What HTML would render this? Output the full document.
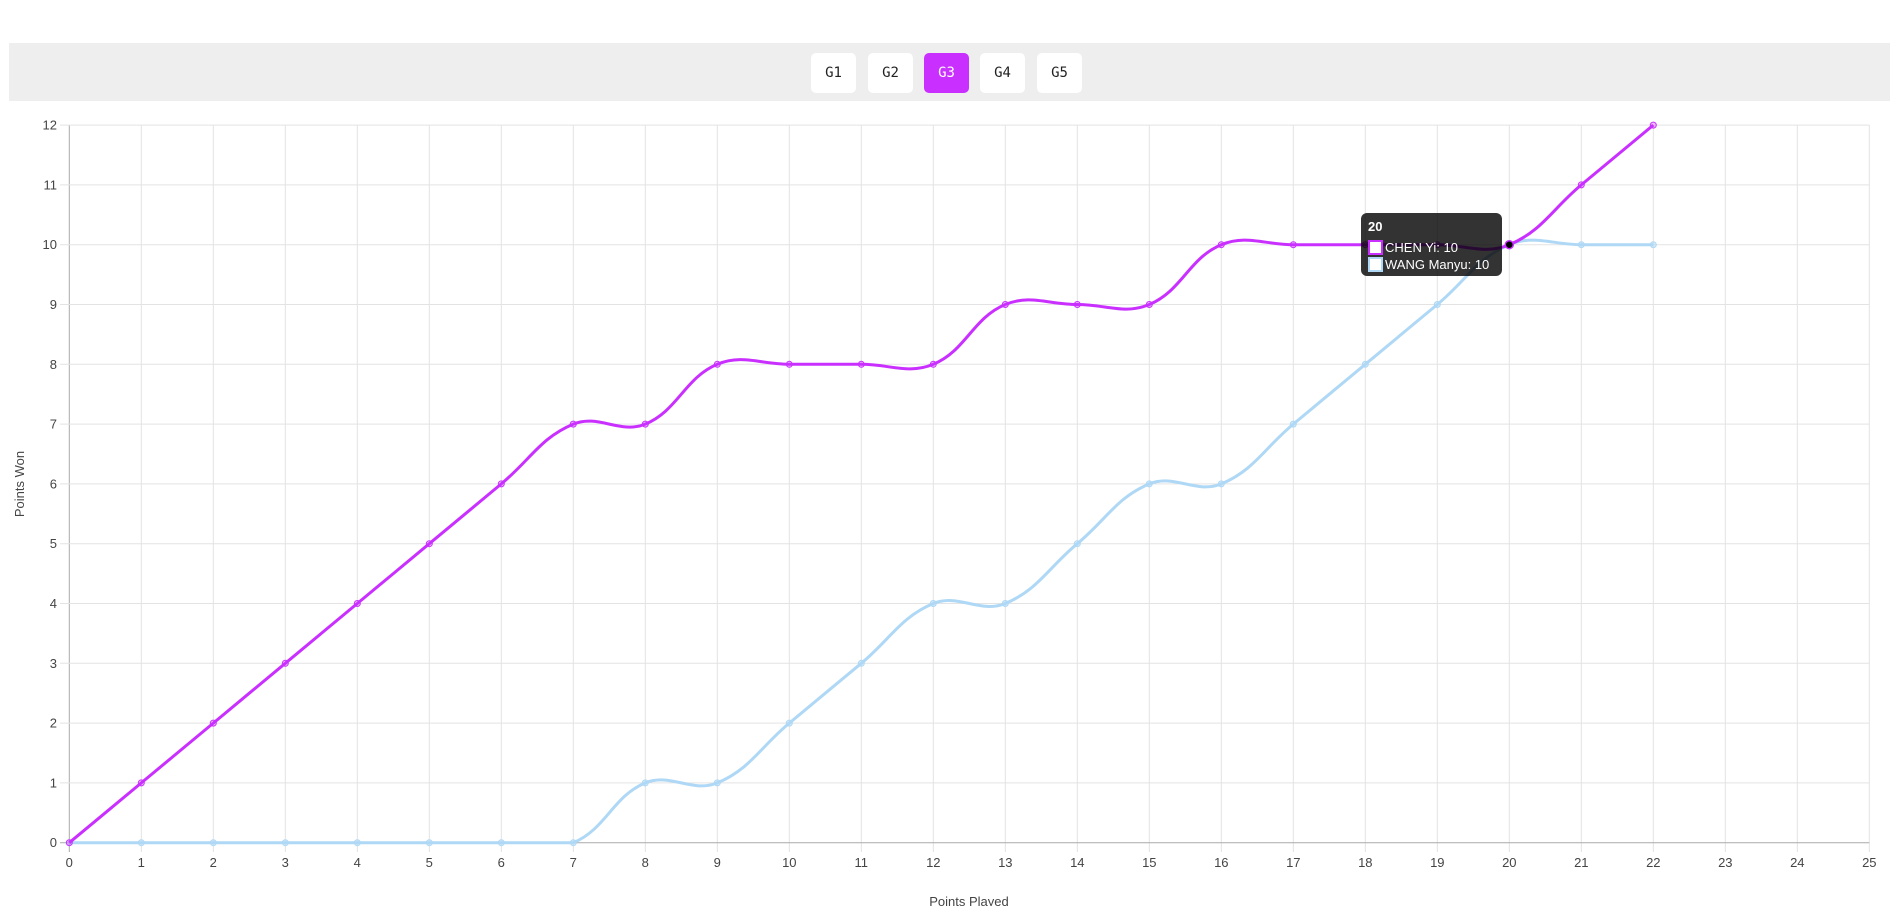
<!DOCTYPE html>
<html><head><meta charset="utf-8"><style>
body{margin:0;width:1902px;height:906px;overflow:hidden;background:#fff;font-family:"Liberation Sans",Arial,sans-serif;}
.band{position:absolute;left:9px;top:43px;width:1881px;height:58px;background:#eeeeee;}
.btn{position:absolute;top:10px;width:45px;height:40px;background:#fff;border-radius:5px;font:14px "DejaVu Sans Mono","Liberation Mono",monospace;color:#222;text-align:center;line-height:40px;}
.btn.on{background:#c930ff;color:#fff;}
svg{position:absolute;left:0;top:0;}
</style></head><body>
<div class="band">
<div class="btn" style="left:802px">G1</div>
<div class="btn" style="left:859px">G2</div>
<div class="btn on" style="left:915px">G3</div>
<div class="btn" style="left:971px">G4</div>
<div class="btn" style="left:1028px">G5</div>
</div>
<svg id="s" width="1902" height="906" xmlns="http://www.w3.org/2000/svg" font-family="Liberation Sans, Arial, sans-serif"></svg>
<script>
var X0=69.3,DX=72,Y0=842.7,DY=59.8;
function px(i){return X0+i*DX}function py(v){return Y0-v*DY}
function cl(y){return Math.max(125,Math.min(Y0,y))}
var s='';
for(var i=0;i<=25;i++){var x=px(i);s+='<line x1="'+x+'" y1="125" x2="'+x+'" y2="852" stroke="'+(i==0?'#aaa':'#e3e3e3')+'" stroke-width="1"/>';
s+='<text x="'+x+'" y="867" font-size="13" fill="#444" text-anchor="middle">'+i+'</text>';}
for(var j=0;j<=12;j++){var y=py(j);s+='<line x1="60" y1="'+y+'" x2="1869.3" y2="'+y+'" stroke="'+(j==0?'#aaa':'#e3e3e3')+'" stroke-width="1"/>';
s+='<text x="57" y="'+(y+4.5)+'" font-size="13" fill="#444" text-anchor="end">'+j+'</text>';}
s+='<text x="969" y="906" font-size="13" fill="#444" text-anchor="middle">Points Played</text>';
s+='<text transform="translate(24,484) rotate(-90)" font-size="13" fill="#444" text-anchor="middle">Points Won</text>';
var A=[0,1,2,3,4,5,6,7,7,8,8,8,8,9,9,9,10,10,10,10,10,11,12];
var B=[0,0,0,0,0,0,0,0,1,1,2,3,4,4,5,6,6,7,8,9,10,10,10];
function path(d){var p=d.map(function(v,i){return [px(i),py(v)]});var cps=[];
for(var i=0;i<p.length;i++){var pr=p[i-1]||p[i],c=p[i],n=p[i+1]||p[i];
var d01=Math.hypot(c[0]-pr[0],c[1]-pr[1]),d12=Math.hypot(n[0]-c[0],n[1]-c[1]);
var s01=d01/(d01+d12)||0,s12=d12/(d01+d12)||0;var fa=0.4*s01,fb=0.4*s12;
cps.push([[c[0]-fa*(n[0]-pr[0]),cl(c[1]-fa*(n[1]-pr[1]))],[c[0]+fb*(n[0]-pr[0]),cl(c[1]+fb*(n[1]-pr[1]))]]);}
var o='M'+p[0][0]+' '+p[0][1];
for(var i=1;i<p.length;i++){o+=' C'+cps[i-1][1][0]+' '+cps[i-1][1][1]+' '+cps[i][0][0]+' '+cps[i][0][1]+' '+p[i][0]+' '+p[i][1];}
return {d:o,p:p};}
function series(d,col,fill){var r=path(d);var o='<path d="'+r.d+'" fill="none" stroke="'+col+'" stroke-width="3"/>';
r.p.forEach(function(q){o+='<circle cx="'+q[0]+'" cy="'+q[1]+'" r="3" fill="'+fill+'" stroke="'+col+'" stroke-width="1"/>';});return o;}
s+=series(B,'#aed8f5','rgba(174,216,245,0.5)');
s+=series(A,'#c930ff','rgba(201,48,255,0.3)');
s+='<circle cx="'+px(20)+'" cy="'+py(10)+'" r="4" fill="#000" stroke="#c930ff" stroke-width="1.5"/>';
s+='<rect x="1361" y="213" width="141" height="63" rx="6" fill="rgba(0,0,0,0.8)"/>';
s+='<text x="1368" y="231" font-size="13" font-weight="bold" fill="#fff">20</text>';
s+='<rect x="1369" y="241" width="13" height="13" fill="#fff" stroke="#c930ff" stroke-width="2"/>';
s+='<text x="1385" y="252" font-size="13" fill="#fff">CHEN Yi: 10</text>';
s+='<rect x="1369" y="258" width="13" height="13" fill="#fff" stroke="#aed8f5" stroke-width="2"/>';
s+='<text x="1385" y="269" font-size="13" fill="#fff">WANG Manyu: 10</text>';
document.getElementById('s').innerHTML=s;
</script>
</body></html>
